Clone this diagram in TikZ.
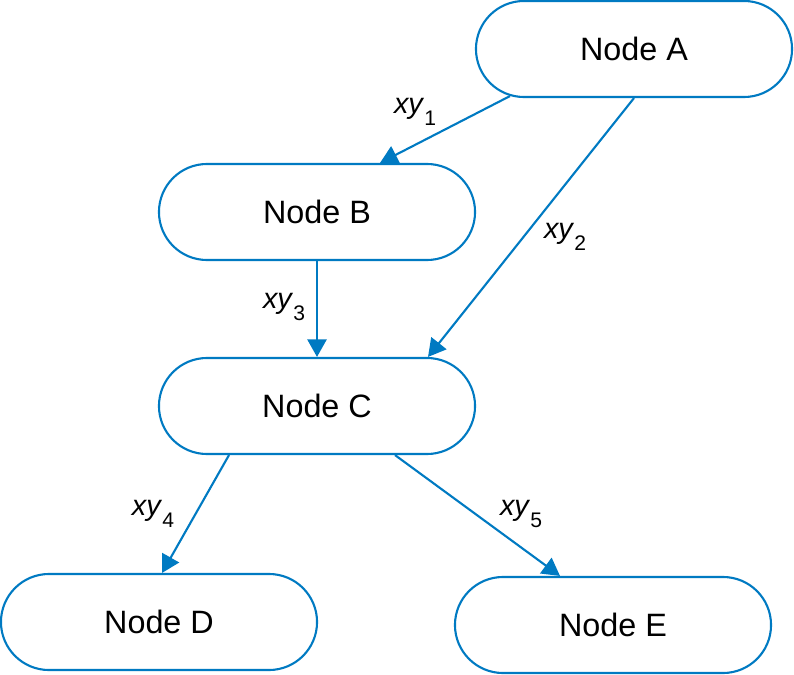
\documentclass[tikz,border=0pt]{standalone}
\usepackage{fontspec}
\setmainfont{Liberation Sans}
\usetikzlibrary{positioning}
\usetikzlibrary{calc}
\usetikzlibrary{arrows.meta}
\definecolor{linkblue}{RGB}{0,122,194}
\newcommand{\xylabel}[1]{\textit{xy}\raisebox{-8.5pt}{\fontsize{15}{17}\selectfont #1}}

\begin{document}
\begin{tikzpicture}[x=0.025cm, y=-0.025cm,
		state/.style={draw=linkblue, line width=1.5pt, rounded corners=1.2cm, minimum width=7.9cm, minimum height=2.4cm, font=\fontsize{23}{27}\selectfont},
		link/.style={draw=linkblue, line width=1.5pt, -{Triangle[length=0.44cm, width=0.48cm]}},
		tag/.style={font=\fontsize{20.5}{24}\selectfont, inner sep=0pt}]
		\useasboundingbox (0, 0) rectangle (794, 675);

		\node [state] (A) at (634, 49) {Node A};
		\node [state] (B) at (317, 212) {Node B};
		\node [state] (C) at (317, 406) {Node C};
		\node [state] (D) at (159, 622) {Node D};
		\node [state] (E) at (613, 625) {Node E};

		\draw [link] ($(A.south) + (-124, -2)$) -- ($(B.north) + (63, 0)$);
		\draw [link] (A.south) -- ($(C.north) + (111, 0)$);
		\draw [link] (B.south) -- (C.north);
		\draw [link] ($(C.south) + (-88, 0)$) -- ($(D.north) + (3, 0)$);
		\draw [link] ($(C.south) + (78, 0)$) -- ($(E.north) + (-53, 0)$);

		\node [tag] (xy1) at (415, 112) {\xylabel{1}};
		\node [tag] (xy2) at (565, 237) {\xylabel{2}};
		\node [tag] (xy3) at (284, 307) {\xylabel{3}};
		\node [tag] (xy4) at (153, 514) {\xylabel{4}};
		\node [tag] (xy5) at (521, 514) {\xylabel{5}};
	\end{tikzpicture}
\end{document}
